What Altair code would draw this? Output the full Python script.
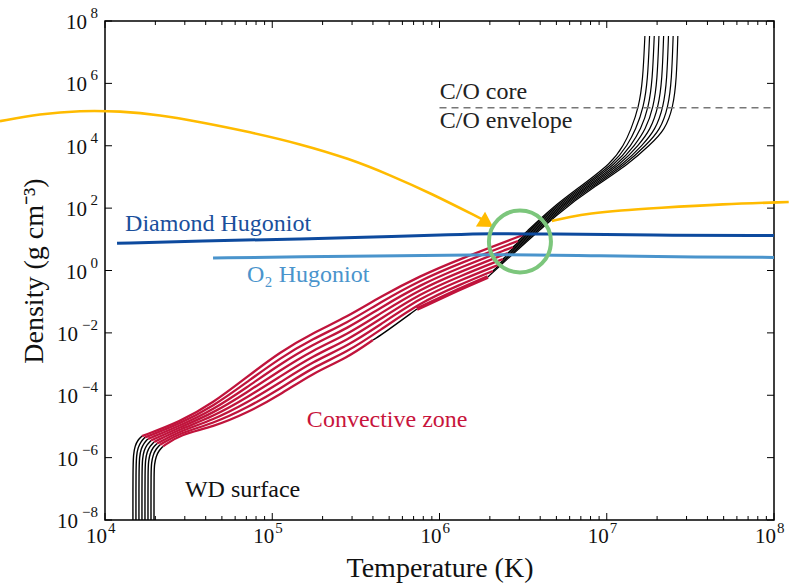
import altair as alt
import pandas as pd

FONT = "Liberation Serif"
W, H = 669, 499
RED = "#c0143c"
BLACK = "#000000"
DBLUE = "#0d4a9e"
LBLUE = "#4a94cc"
YEL = "#ffbb00"
GREEN = "#7cc67c"

# ---------------- white-dwarf envelope profiles (log10 T, log10 rho), 8 models ----------------
bottom_logT = [
    [4.167, 4.167, 4.170, 4.179, 4.197, 4.221],
    [4.185, 4.185, 4.188, 4.197, 4.215, 4.239],
    [4.203, 4.203, 4.206, 4.215, 4.233, 4.257],
    [4.221, 4.221, 4.224, 4.233, 4.251, 4.275],
    [4.239, 4.239, 4.242, 4.251, 4.269, 4.293],
    [4.257, 4.257, 4.260, 4.269, 4.287, 4.311],
    [4.275, 4.275, 4.278, 4.287, 4.305, 4.329],
    [4.293, 4.293, 4.296, 4.305, 4.323, 4.347],
]
bottom_logrho = [
    [-8, -6.40, -5.88, -5.63, -5.43, -5.31],
    [-8, -6.40, -5.93, -5.68, -5.48, -5.35],
    [-8, -6.40, -5.98, -5.72, -5.53, -5.40],
    [-8, -6.40, -6.03, -5.77, -5.58, -5.45],
    [-8, -6.40, -6.07, -5.82, -5.63, -5.50],
    [-8, -6.40, -6.12, -5.87, -5.67, -5.55],
    [-8, -6.40, -6.17, -5.92, -5.72, -5.59],
    [-8, -6.40, -6.22, -5.96, -5.77, -5.64],
]
# convective zone (models 0..6 share these temperatures)
red_logT = [4.448, 4.646, 4.849, 5.046, 5.243, 5.447, 5.644, 5.883, 6.122]
red_logrho = [
    [-4.857, -4.248, -3.415, -2.613, -2.004, -1.491, -0.850, -0.176, 0.369],
    [-4.915, -4.357, -3.578, -2.809, -2.187, -1.680, -1.029, -0.317, 0.231],
    [-4.973, -4.469, -3.745, -3.007, -2.369, -1.866, -1.206, -0.462, 0.093],
    [-5.030, -4.578, -3.908, -3.203, -2.552, -2.055, -1.385, -0.603, -0.045],
    [-5.088, -4.687, -4.075, -3.402, -2.738, -2.241, -1.565, -0.744, -0.180],
    [-5.146, -4.796, -4.239, -3.597, -2.921, -2.430, -1.744, -0.885, -0.317],
    [-5.204, -4.909, -4.405, -3.796, -3.104, -2.619, -1.920, -1.029, -0.455],
]
red_end_logT = [6.499, 6.469, 6.439, 6.409, 6.379, 6.349, 6.319, 6.289]
red_end_logrho = [1.138, 0.946, 0.753, 0.561, 0.369, 0.176, -0.016, -0.208]
# last model: convective zone interrupted by a radiative layer
last_logT = [4.448, 4.646, 4.849, 5.046, 5.243, 5.447, 5.602, 5.644, 5.865, 6.122, 6.289]
last_logrho = [-5.261, -5.018, -4.569, -3.992, -3.286, -2.805, -2.228, -2.100, -1.235, -0.593, -0.208]
last_zone = ["conv"] * 7 + ["rad"] * 2 + ["conv2"] * 2
# deep interior (black)
top_logT = [
    [6.678, 6.839, 7.030, 7.102, 7.144, 7.192, 7.216, 7.228],
    [6.688, 6.852, 7.046, 7.124, 7.173, 7.221, 7.245, 7.256],
    [6.698, 6.864, 7.061, 7.146, 7.203, 7.251, 7.273, 7.284],
    [6.709, 6.877, 7.077, 7.168, 7.232, 7.280, 7.302, 7.312],
    [6.719, 6.889, 7.092, 7.190, 7.261, 7.309, 7.331, 7.340],
    [6.729, 6.902, 7.108, 7.213, 7.291, 7.339, 7.360, 7.369],
    [6.739, 6.915, 7.123, 7.235, 7.320, 7.368, 7.388, 7.397],
    [6.749, 6.927, 7.139, 7.257, 7.349, 7.397, 7.417, 7.425],
]
top_logrho = [2.04, 2.68, 3.45, 4.02, 4.51, 5.24, 6.11, 7.52]

# ---------------- Hugoniots ----------------
diamond_logT = [4.072, 4.568, 5.166, 5.763, 6.062, 6.301, 6.660, 7.258, 8.0]
diamond_logrho = [0.87, 0.95, 1.01, 1.09, 1.15, 1.19, 1.17, 1.13, 1.12]
o2_logT = [4.646, 5.166, 5.763, 6.361, 6.959, 7.556, 8.0]
o2_logrho = [0.40, 0.44, 0.47, 0.52, 0.47, 0.43, 0.42]

# ---------------- yellow arrows ----------------
yl_logT = [3.372, 3.611, 3.851, 4.090, 4.329, 4.568, 4.867, 5.166, 5.464, 5.704, 5.943, 6.253]
yl_logrho = [4.79, 5.02, 5.13, 5.11, 4.99, 4.76, 4.44, 4.06, 3.58, 3.06, 2.49, 1.65]
yr_logT = [6.672, 6.779, 6.899, 7.078, 7.299, 7.694, 8.088]
yr_logrho = [1.59, 1.715, 1.828, 1.924, 2.004, 2.132, 2.196]
arrow_logT, arrow_logrho = 6.283, 1.52
circle_logT, circle_logrho = 6.481, 0.93

# core / envelope boundary
co_logT = [6.0, 8.0]
co_logrho = 5.22

# annotations
ann_text = ["C/O core", "C/O envelope", "Diamond Hugoniot", "O\u2082 Hugoniot", "Convective zone", "WD surface"]
ann_logT = [6.002, 6.002, 4.12, 4.849, 5.207, 4.478]
ann_logrho = [5.50, 4.57, 1.266, -0.369, -5.018, -7.262]
ann_color = ["#222222", "#222222", "#1a4f9c", LBLUE, "#c8143c", "#111111"]

# axis ticks and labels
x_exp = [4, 5, 6, 7, 8]
x_minor_mult = [2, 3, 4, 5, 6, 7, 8, 9]
y_exp = [-8, -6, -4, -2, 0, 2, 4, 6, 8]

# ---------------- build tables ----------------
rows = []


def add(seg, lts, lrs, color, w):
    for k, (a, b) in enumerate(zip(lts, lrs)):
        rows.append({"seg": seg, "k": k, "T": 10 ** a, "rho": 10 ** b, "color": color, "w": w})


for i in range(8):
    add(f"b{i}", bottom_logT[i], bottom_logrho[i], BLACK, 1.4)
    if i < 7:
        add(f"r{i}", [bottom_logT[i][-1]] + red_logT + [red_end_logT[i]],
            [bottom_logrho[i][-1]] + red_logrho[i] + [red_end_logrho[i]], RED, 2.3)
    else:
        runs = []
        for k, z in enumerate(last_zone):
            if not runs or runs[-1][0] != z:
                start = [runs[-1][1][-1]] if runs else [(bottom_logT[i][-1], bottom_logrho[i][-1])]
                runs.append((z, start))
            runs[-1][1].append((last_logT[k], last_logrho[k]))
        for n, (z, pts) in enumerate(runs):
            color = BLACK if z == "rad" else RED
            w = 1.4 if z == "rad" else (2.3 if z == "conv" else 3.8)
            add(f"r{i}_{n}", [p[0] for p in pts], [p[1] for p in pts], color, w)
    add(f"t{i}", [red_end_logT[i]] + top_logT[i], [red_end_logrho[i]] + top_logrho, BLACK, 1.2)

prof = pd.DataFrame(rows)


def df(lts, lrs):
    return pd.DataFrame({"T": [10 ** a for a in lts], "rho": [10 ** b for b in lrs], "k": range(len(lts))})


xscale = alt.Scale(type="log", domain=[1e4, 1e8], nice=False)
yscale = alt.Scale(type="log", domain=[1e-8, 1e8], nice=False)
xaxis = alt.Axis(values=[10.0 ** e for e in x_exp], labels=False, title="Temperature (K)",
                 titleY=56, titleBaseline="alphabetic")
yaxis = alt.Axis(values=[10.0 ** e for e in y_exp], labels=False, title="Density (g cm\u207b\u00b3)",
                 titleX=-63, titleBaseline="alphabetic")


def X(f="T"):
    return alt.X(f"{f}:Q", scale=xscale, axis=xaxis)


def Y(f="rho"):
    return alt.Y(f"{f}:Q", scale=yscale, axis=yaxis)


enc_prof = dict(x=X(), y=Y(), detail="seg:N", order="k:Q",
                color=alt.Color("color:N", scale=None),
                strokeWidth=alt.StrokeWidth("w:Q", scale=None))

black_layer = alt.Chart(prof[prof.color == BLACK]).mark_line(interpolate="basis").encode(**enc_prof)
red_layer = alt.Chart(prof[prof.color == RED]).mark_line(interpolate="basis").encode(**enc_prof)

diamond = alt.Chart(df(diamond_logT, diamond_logrho)).mark_line(
    color=DBLUE, strokeWidth=3, interpolate="basis").encode(x=X(), y=Y(), order="k:Q")
o2 = alt.Chart(df(o2_logT, o2_logrho)).mark_line(
    color=LBLUE, strokeWidth=3, interpolate="basis").encode(x=X(), y=Y(), order="k:Q")

yl = alt.Chart(df(yl_logT, yl_logrho)).mark_line(
    color=YEL, strokeWidth=2.6, interpolate="basis", clip=False).encode(x=X(), y=Y(), order="k:Q")
yr = alt.Chart(df(yr_logT, yr_logrho)).mark_line(
    color=YEL, strokeWidth=2.6, interpolate="basis", clip=False).encode(x=X(), y=Y(), order="k:Q")
arrow = alt.Chart(df([arrow_logT], [arrow_logrho])).mark_point(
    shape="triangle-right", filled=True, size=300, angle=32, color=YEL, opacity=1).encode(x=X(), y=Y())

circle = alt.Chart(df([circle_logT], [circle_logrho])).mark_point(
    shape="circle", filled=False, size=3844, strokeWidth=4, color=GREEN, opacity=1).encode(x=X(), y=Y())

co = alt.Chart(pd.DataFrame({"T": [10 ** co_logT[0]], "T2": [10 ** co_logT[1]], "rho": [10 ** co_logrho]})).mark_rule(
    color="#777777", strokeWidth=1.5, strokeDash=[7, 5]).encode(x=X(), x2="T2:Q", y=Y())

ann = alt.Chart(pd.DataFrame({"T": [10 ** a for a in ann_logT], "rho": [10 ** b for b in ann_logrho],
                              "text": ann_text, "color": ann_color})).mark_text(
    align="left", baseline="alphabetic", font=FONT, fontSize=24).encode(
    x=X(), y=Y(), text="text:N", color=alt.Color("color:N", scale=None))

# ---- ticks (inward, on all four sides, matplotlib style) ----
xt_major = pd.DataFrame({"T": [10.0 ** e for e in x_exp]})
xt_minor = pd.DataFrame({"T": [m * 10.0 ** e for e in x_exp[:-1] for m in x_minor_mult]})
yt_major = pd.DataFrame({"rho": [10.0 ** e for e in y_exp]})
tick_layers = [
    alt.Chart(xt_major).mark_rule(color="black", strokeWidth=1).encode(x=X(), y=alt.value(H), y2=alt.value(H - 7)),
    alt.Chart(xt_major).mark_rule(color="black", strokeWidth=1).encode(x=X(), y=alt.value(0), y2=alt.value(7)),
    alt.Chart(xt_minor).mark_rule(color="black", strokeWidth=1).encode(x=X(), y=alt.value(H), y2=alt.value(H - 4)),
    alt.Chart(xt_minor).mark_rule(color="black", strokeWidth=1).encode(x=X(), y=alt.value(0), y2=alt.value(4)),
    alt.Chart(yt_major).mark_rule(color="black", strokeWidth=1).encode(y=Y(), x=alt.value(0), x2=alt.value(7)),
    alt.Chart(yt_major).mark_rule(color="black", strokeWidth=1).encode(y=Y(), x=alt.value(W), x2=alt.value(W - 7)),
]

# ---- tick labels: "10" with a raised exponent ----
def exp_str(e):
    return str(e).replace("-", "\u2212")


xlab = pd.DataFrame({"T": [10.0 ** e for e in x_exp], "base": "10", "exp": [exp_str(e) for e in x_exp]})
ylab = pd.DataFrame({"rho": [10.0 ** e for e in y_exp], "base": "10", "exp": [exp_str(e) for e in y_exp],
                     "px": [-27 if e < 0 else -18 for e in y_exp]})
label_layers = [
    alt.Chart(xlab).mark_text(align="right", baseline="alphabetic", dx=2, font=FONT, fontSize=21,
                              color="#111111").encode(x=X(), y=alt.value(H + 23), text="base:N"),
    alt.Chart(xlab).mark_text(align="left", baseline="alphabetic", dx=3, font=FONT, fontSize=15,
                              color="#111111").encode(x=X(), y=alt.value(H + 13), text="exp:N"),
    alt.Chart(ylab).mark_text(align="right", baseline="alphabetic", dy=8, font=FONT, fontSize=21,
                              color="#111111").encode(x=alt.X("px:Q", scale=None), y=Y(), text="base:N"),
    alt.Chart(ylab).mark_text(align="right", baseline="alphabetic", dy=-3, font=FONT, fontSize=15,
                              color="#111111").encode(x=alt.value(-7), y=Y(), text="exp:N"),
]

chart = alt.layer(
    black_layer, red_layer, diamond, o2, co, yl, yr, arrow, circle, ann, *tick_layers, *label_layers
).properties(
    width=W, height=H,
    padding={"left": 105, "top": 21, "right": 15, "bottom": 63},
    autosize=alt.AutoSizeParams(type="none"),
    background="white",
).configure_view(
    stroke="black", strokeWidth=1.5
).configure_axis(
    grid=False, domain=False, ticks=False, tickSize=0,
    titleFont=FONT, titleFontSize=28, titleFontWeight="normal", titleColor="#111111",
)

chart.save("out.html", embed_options={"renderer": "svg", "actions": False})
